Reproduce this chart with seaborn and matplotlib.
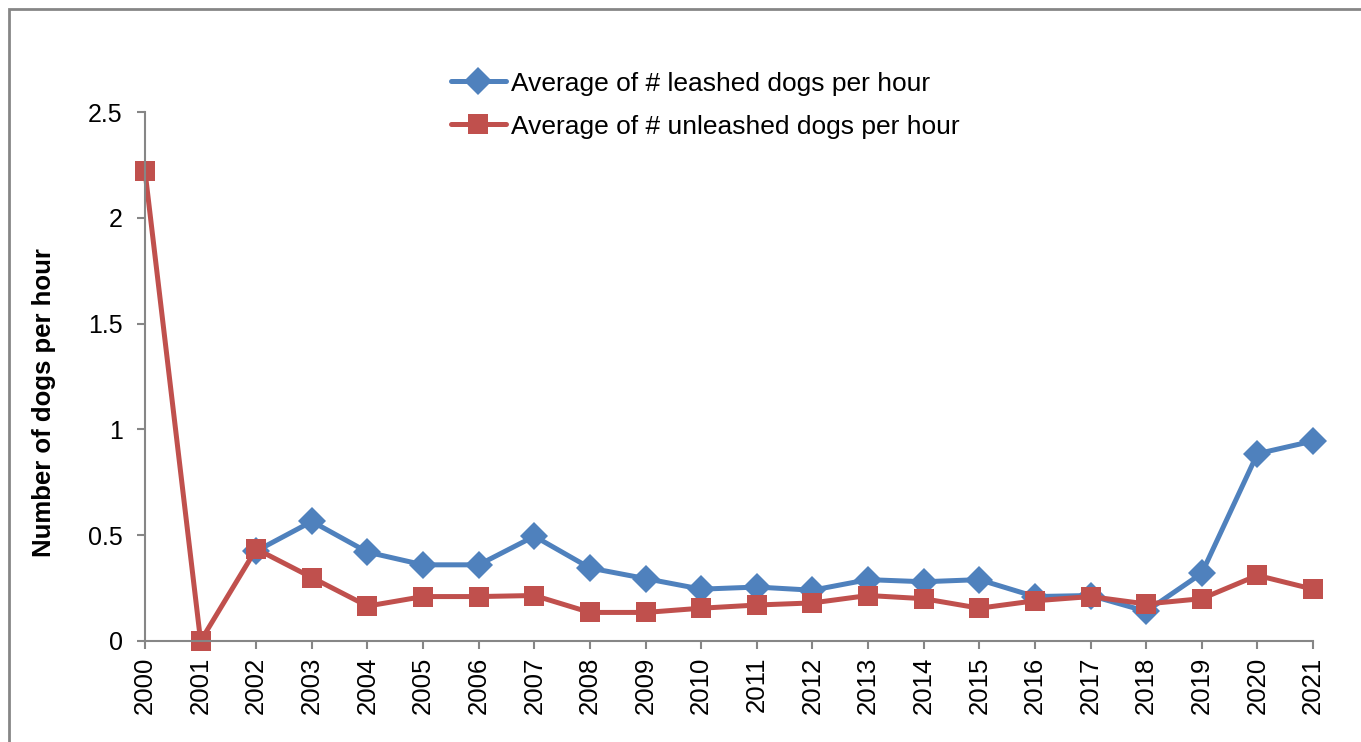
import numpy as np
import pandas as pd
import matplotlib
matplotlib.use('Agg')
import matplotlib.pyplot as plt
import seaborn as sns
from matplotlib.patches import Rectangle

years = [str(y) for y in range(2000, 2022)]
leashed = [np.nan, np.nan, 0.425, 0.565, 0.42, 0.36, 0.36, 0.495, 0.345, 0.295,
           0.245, 0.255, 0.24, 0.29, 0.28, 0.29, 0.21, 0.215, 0.14, 0.32, 0.885, 0.945]
unleashed = [2.22, 0.0, 0.435, 0.30, 0.165, 0.21, 0.21, 0.215, 0.135, 0.135,
             0.155, 0.17, 0.18, 0.215, 0.20, 0.155, 0.19, 0.21, 0.175, 0.20, 0.31, 0.245]
series_names = ['Average of # leashed dogs per hour', 'Average of # unleashed dogs per hour']

sns.set_theme(style='white')
plt.rcParams['font.family'] = ['Liberation Sans', 'DejaVu Sans']
plt.rcParams['text.color'] = 'black'
plt.rcParams['axes.labelcolor'] = 'black'
plt.rcParams['xtick.color'] = 'black'
plt.rcParams['ytick.color'] = 'black'

df = pd.DataFrame({'year': years, series_names[0]: leashed, series_names[1]: unleashed})
long_df = df.melt(id_vars='year', var_name='series', value_name='dogs')
long_df['x'] = long_df['year'].map({y: i for i, y in enumerate(years)})

blue = '#4F81BD'
red = '#C0504D'
grey = '#868686'

fig = plt.figure(figsize=(13.61, 7.42), dpi=100)
ax = fig.add_axes([145 / 1361, 101 / 742, (1313 - 145) / 1361, (641 - 112) / 742])

sns.lineplot(data=long_df, x='x', y='dogs', hue='series', style='series',
             palette=[blue, red], markers=['D', 's'], dashes=False,
             linewidth=3.6, markersize=14.5, markeredgewidth=0, ax=ax, legend=False)
for line in ax.get_lines():
    line.set_clip_on(False)

ax.set_xlim(0, len(years) - 1)
ax.set_ylim(0, 2.5)
ax.set_xticks(range(len(years)))
ax.set_xticklabels(years, rotation=90, fontsize=18.5)
ax.set_yticks([0, 0.5, 1, 1.5, 2, 2.5])
ax.set_yticklabels(['0', '0.5', '1', '1.5', '2', '2.5'], fontsize=18)
ax.set_xlabel('')
ax.set_ylabel('Number of dogs per hour', fontsize=18.5, fontweight='bold')
ax.yaxis.set_label_coords(-0.076, 0.45)

for side in ['top', 'right']:
    ax.spines[side].set_visible(False)
for side in ['left', 'bottom']:
    ax.spines[side].set_color(grey)
    ax.spines[side].set_linewidth(1.5)
ax.tick_params(axis='both', direction='out', length=6, width=1.5, color=grey,
               bottom=True, left=True)
ax.tick_params(axis='y', pad=10)
ax.tick_params(axis='x', pad=5)

# legend built from the drawn lines
handles = ax.get_lines()[:2]
fig.legend(handles, series_names, loc='upper left', bbox_to_anchor=(440 / 1361, 1 - 61 / 742),
           frameon=False, fontsize=19, handlelength=2.1, handletextpad=0.2,
           labelspacing=0.72, borderaxespad=0)

# outer chart border (only top and left show)
fig.add_artist(Rectangle((9 / 1361, -0.1), 1.2, 1.1 - 9 / 742, transform=fig.transFigure,
                         fill=False, edgecolor=grey, linewidth=2))

plt.savefig('out.png', dpi=100)
plt.close()
